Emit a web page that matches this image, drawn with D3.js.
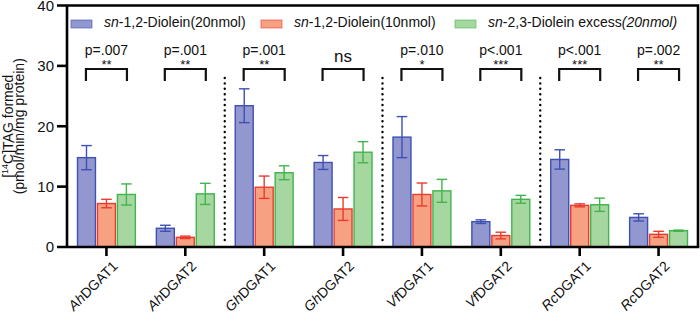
<!DOCTYPE html>
<html>
<head>
<meta charset="utf-8">
<script src="https://cdn.jsdelivr.net/npm/d3@7"></script>
<style>
  html, body { margin: 0; padding: 0; background: #fff; }
  svg { display: block; font-family: "Liberation Sans", Arial, Helvetica, sans-serif; }
</style>
</head>
<body>
<div id="chart"></div>
<script>
// ── data ──
const species = ['Ah', 'Ah', 'Gh', 'Gh', 'Vf', 'Vf', 'Rc', 'Rc'];
const genes   = ['AhDGAT1', 'AhDGAT2', 'GhDGAT1', 'GhDGAT2', 'VfDGAT1', 'VfDGAT2', 'RcDGAT1', 'RcDGAT2'];
const series  = ['d20', 'd10', 'ex20'];

const mean20 = [14.8, 3.1, 23.4, 14.0, 18.2, 4.2, 14.5, 4.9];
const err20  = [2.0, 0.5, 2.8, 1.15, 3.4, 0.3, 1.6, 0.6];
const mean10 = [7.2, 1.6, 9.9, 6.3, 8.7, 1.9, 6.9, 2.1];
const err10  = [0.7, 0.2, 1.85, 1.9, 1.9, 0.55, 0.25, 0.5];
const meanEx = [8.7, 8.8, 12.3, 15.7, 9.3, 7.9, 7.0, 2.7];
const errEx  = [1.75, 1.75, 1.15, 1.75, 1.9, 0.65, 1.1, 0.1];

const pLabels = ['p=.007', 'p=.001', 'p=.001', '', 'p=.010', 'p<.001', 'p<.001', 'p=.002'];
const stars   = ['**', '**', '**', 'ns', '*', '***', '***', '**'];
const yTicks  = [0, 10, 20, 30, 40];
const separatorsAfter = [1, 3, 5];

const FILL   = { d20: '#9297d0', d10: '#f5a182', ex20: '#a6d7a0' };
const STROKE = { d20: '#3d50b3', d10: '#ec3a2e', ex20: '#3fb54b' };

const W = 700, H = 317;
const mLeft = 67, mRight = 698, mTop = 5.5, mBottom = 247;

const rows = genes.map((g, i) => ({
  gene: g, sp: species[i], i,
  vals: [
    { s: 'd20',  v: mean20[i], e: err20[i] },
    { s: 'd10',  v: mean10[i], e: err10[i] },
    { s: 'ex20', v: meanEx[i], e: errEx[i] },
  ]
}));

const svg = d3.select('#chart').append('svg')
  .attr('width', W).attr('height', H);

const x  = d3.scaleBand().domain(genes).range([mLeft, mRight]);
const xi = d3.scaleBand().domain(series).range([10.5, x.bandwidth() - 10.5]).paddingInner(0.1);
const y  = d3.scaleLinear().domain([0, 40]).range([mBottom, mTop]);

// ── bars ──
const grp = svg.append('g').selectAll('g')
  .data(rows).join('g')
  .attr('transform', d => `translate(${x(d.gene)},0)`);

grp.selectAll('rect')
  .data(d => d.vals).join('rect')
  .attr('x', d => xi(d.s))
  .attr('y', d => y(d.v))
  .attr('width', xi.bandwidth())
  .attr('height', d => y(0) - y(d.v))
  .attr('fill', d => FILL[d.s])
  .attr('stroke', d => STROKE[d.s])
  .attr('stroke-width', 1.4);

// error bars
const eb = grp.selectAll('g.err')
  .data(d => d.vals).join('g').attr('class', 'err')
  .attr('stroke', d => STROKE[d.s]).attr('stroke-width', 1.4);
eb.append('line')
  .attr('x1', d => xi(d.s) + xi.bandwidth() / 2).attr('x2', d => xi(d.s) + xi.bandwidth() / 2)
  .attr('y1', d => y(d.v + d.e)).attr('y2', d => y(d.v - d.e));
eb.selectAll('line.cap')
  .data(d => [d.v + d.e, d.v - d.e].map(v => ({ s: d.s, v })))
  .join('line').attr('class', 'cap')
  .attr('x1', d => xi(d.s) + xi.bandwidth() / 2 - 5.3)
  .attr('x2', d => xi(d.s) + xi.bandwidth() / 2 + 5.3)
  .attr('y1', d => y(d.v)).attr('y2', d => y(d.v));

// ── dotted separators ──
svg.append('g').selectAll('line')
  .data(separatorsAfter).join('line')
  .attr('x1', i => x(genes[i + 1])).attr('x2', i => x(genes[i + 1]))
  .attr('y1', 78).attr('y2', mBottom - 2)
  .attr('stroke', '#000').attr('stroke-width', 2.4)
  .attr('stroke-linecap', 'round').attr('stroke-dasharray', '0 5.4');

// ── significance brackets ──
const sig = svg.append('g').selectAll('g')
  .data(rows).join('g')
  .attr('transform', d => `translate(${x(d.gene) + x.bandwidth() / 2},0)`);
sig.append('path')
  .attr('d', 'M-20.5,81V69H20.5V81')
  .attr('fill', 'none').attr('stroke', '#111').attr('stroke-width', 2.2);
sig.append('text')
  .attr('y', 55).attr('text-anchor', 'middle')
  .attr('font-size', 14).attr('fill', '#111')
  .text(d => pLabels[d.i]);
sig.append('text')
  .attr('y', d => stars[d.i] === 'ns' ? 61.5 : 69)
  .attr('text-anchor', 'middle')
  .attr('font-size', d => stars[d.i] === 'ns' ? 17 : 13)
  .attr('fill', '#111')
  .text(d => stars[d.i]);

// ── axes / frame ──
const frame = svg.append('g').attr('stroke', '#000').attr('stroke-width', 2.6).attr('fill', 'none');
frame.append('path').attr('d', `M${mLeft},${mTop}V${mBottom}`);
frame.append('path').attr('d', `M${mLeft - 10},${mTop}H${mRight}V${mBottom}`);
frame.append('path').attr('d', `M${mLeft - 10},${mBottom}H${mRight + 1.3}`);

const yAxis = svg.append('g');
yAxis.selectAll('line').data(yTicks.slice(1, 4)).join('line')
  .attr('x1', mLeft - 10).attr('x2', mLeft).attr('y1', d => y(d)).attr('y2', d => y(d))
  .attr('stroke', '#000').attr('stroke-width', 2.6);
yAxis.selectAll('text').data(yTicks).join('text')
  .attr('x', mLeft - 13).attr('y', d => y(d)).attr('dy', '0.36em')
  .attr('text-anchor', 'end').attr('font-size', 15).attr('fill', '#111')
  .text(d => d);

const xAxis = svg.append('g');
xAxis.selectAll('line').data(genes).join('line')
  .attr('x1', d => x(d) + x.bandwidth() / 2).attr('x2', d => x(d) + x.bandwidth() / 2)
  .attr('y1', mBottom).attr('y2', mBottom + 9)
  .attr('stroke', '#000').attr('stroke-width', 2.6);
const xl = xAxis.selectAll('text').data(rows).join('text')
  .attr('transform', d => `translate(${x(d.gene) + x.bandwidth() / 2 + 5},${mBottom + 13}) rotate(-45)`)
  .attr('text-anchor', 'end').attr('dy', '0.71em')
  .attr('font-size', 14).attr('fill', '#111');
xl.append('tspan').attr('font-style', 'italic').text(d => d.sp);
xl.append('tspan').text(d => d.gene.slice(2));

// y label
const yl = svg.append('g').attr('transform', `translate(0,${(mTop + mBottom) / 2}) rotate(-90)`)
  .attr('font-size', 14).attr('fill', '#111').attr('text-anchor', 'middle');
const l1 = yl.append('text').attr('y', 12.5);
l1.append('tspan').text('[');
l1.append('tspan').attr('font-size', 9).attr('dy', -5).text('14');
l1.append('tspan').attr('dy', 5).text('C]TAG formed');
yl.append('text').attr('y', 24).text('(pmol/min/mg protein)');

// ── legend ──
const legendItems = [
  { s: 'd20',  parts: [['sn', true], ['-1,2-Diolein(20nmol)', false]] },
  { s: 'd10',  parts: [['sn', true], ['-1,2-Diolein(10nmol)', false]] },
  { s: 'ex20', parts: [['sn', true], ['-2,3-Diolein excess', false], ['(20nmol)', true]] },
];
const legendX = [71, 261, 455];
const leg = svg.append('g').selectAll('g')
  .data(legendItems).join('g')
  .attr('transform', (d, i) => `translate(${legendX[i]},20)`);
leg.append('rect')
  .attr('width', 21).attr('height', 8)
  .attr('fill', d => FILL[d.s]).attr('stroke', d => STROKE[d.s]).attr('stroke-opacity', 0.6).attr('stroke-width', 1);
const lt = leg.append('text').attr('x', 33).attr('y', 7).attr('font-size', 14).attr('fill', '#111');
lt.selectAll('tspan').data(d => d.parts).join('tspan')
  .attr('font-style', d => d[1] ? 'italic' : 'normal')
  .text(d => d[0]);
</script>
</body>
</html>
